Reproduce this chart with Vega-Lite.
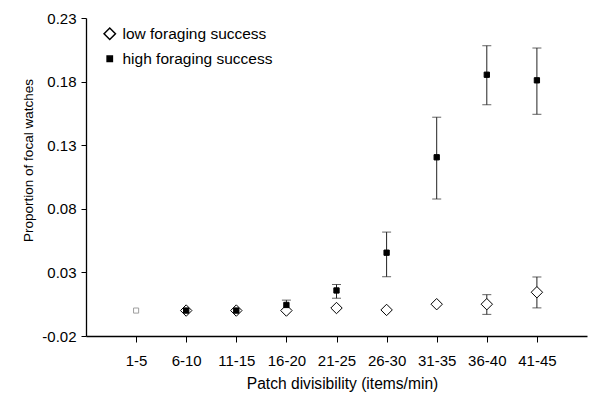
{
  "$schema": "https://vega.github.io/schema/vega-lite/v6.json",
  "autosize": "none",
  "width": 501,
  "height": 318,
  "padding": {"left": 86, "top": 18, "right": 4, "bottom": 57},
  "config": {
    "view": {"stroke": null},
    "font": "Liberation Sans",
    "axis": {"grid": false, "domainColor": "#000", "tickColor": "#000", "labelColor": "#000", "titleColor": "#000", "labelFont": "Liberation Sans", "titleFont": "Liberation Sans", "labelFontSize": 15, "titleFontSize": 15, "titleFontWeight": "normal", "domainWidth": 1.3, "tickWidth": 1},
    "legend": {"title": null, "orient": "none", "legendX": 16, "legendY": 8, "labelFontSize": 15.5, "labelFont": "Liberation Sans", "labelColor": "#000", "rowPadding": 8, "labelOffset": 5}
  },
  "datasets": {
    "pts": [
      {"group": "low", "cat": "6-10", "val": 0.0},
      {"group": "low", "cat": "11-15", "val": 0.0},
      {"group": "low", "cat": "16-20", "val": 0.0},
      {"group": "low", "cat": "21-25", "val": 0.002},
      {"group": "low", "cat": "26-30", "val": 0.0005},
      {"group": "low", "cat": "31-35", "val": 0.005},
      {"group": "low", "cat": "36-40", "val": 0.005, "lo": -0.003, "hi": 0.0125},
      {"group": "low", "cat": "41-45", "val": 0.0144, "lo": 0.0021, "hi": 0.0264},
      {"group": "high", "cat": "6-10", "val": 0.0},
      {"group": "high", "cat": "11-15", "val": 0.0},
      {"group": "high", "cat": "16-20", "val": 0.0044, "lo": 0.0006, "hi": 0.0082},
      {"group": "high", "cat": "21-25", "val": 0.0158, "lo": 0.0097, "hi": 0.0205},
      {"group": "high", "cat": "26-30", "val": 0.0455, "lo": 0.0266, "hi": 0.0617},
      {"group": "high", "cat": "31-35", "val": 0.1205, "lo": 0.0877, "hi": 0.152},
      {"group": "high", "cat": "36-40", "val": 0.1854, "lo": 0.1618, "hi": 0.2082},
      {"group": "high", "cat": "41-45", "val": 0.181, "lo": 0.1543, "hi": 0.2064}
    ],
    "extra": [
      {"cat": "1-5", "val": 0.0}
    ]
  },
  "encoding": {
    "x": {
      "field": "cat", "type": "ordinal",
      "scale": {"type": "point", "domain": ["1-5","6-10","11-15","16-20","21-25","26-30","31-35","36-40","41-45"], "padding": 1},
      "axis": {"title": "Patch divisibility (items/min)", "titleFontSize": 15.6, "titleX": 256, "labelAngle": 0, "tickSize": 6, "labelPadding": 11, "titlePadding": 8}
    }
  },
  "layer": [
    {
      "data": {"name": "pts"},
      "transform": [{"filter": "isValid(datum.lo)"}],
      "mark": {"type": "rule", "color": "#222", "strokeWidth": 1},
      "encoding": {
        "y": {"field": "lo", "type": "quantitative", "scale": {"domain": [-0.02, 0.23], "nice": false, "zero": false},
          "axis": {"title": "Proportion of focal watches", "titleFontSize": 13.5, "titleY": 142, "values": [-0.02, 0.03, 0.08, 0.13, 0.18, 0.23], "labelExpr": "datum.value < 0 ? '-' + format(-datum.value, '.2f') : format(datum.value, '.2f')", "tickSize": 5, "labelPadding": 5, "titlePadding": 6}},
        "y2": {"field": "hi"}
      }
    },
    {
      "data": {"name": "pts"},
      "transform": [{"filter": "isValid(datum.lo)"}],
      "mark": {"type": "tick", "color": "#222", "size": 9, "thickness": 1},
      "encoding": {"y": {"field": "lo", "type": "quantitative"}}
    },
    {
      "data": {"name": "pts"},
      "transform": [{"filter": "isValid(datum.hi)"}],
      "mark": {"type": "tick", "color": "#222", "size": 9, "thickness": 1},
      "encoding": {"y": {"field": "hi", "type": "quantitative"}}
    },
    {
      "data": {"name": "extra"},
      "mark": {"type": "point", "shape": "square", "size": 26, "filled": false, "stroke": "#777", "strokeWidth": 1},
      "encoding": {"y": {"field": "val", "type": "quantitative"}}
    },
    {
      "data": {"name": "pts"},
      "mark": {"type": "point", "stroke": "#000", "strokeWidth": 1, "opacity": 1},
      "encoding": {
        "y": {"field": "val", "type": "quantitative"},
        "shape": {"field": "group", "type": "nominal", "scale": {"domain": ["low", "high"], "range": ["diamond", "square"]},
          "legend": {"labelExpr": "datum.value == 'low' ? 'low foraging success' : 'high foraging success'",
            "encode": {"symbols": {"update": {"stroke": {"value": "#000"}, "strokeWidth": {"value": 1}, "size": {"signal": "datum.value == 'low' ? 64 : 28"}}}}}},
        "fill": {"field": "group", "type": "nominal", "scale": {"domain": ["low", "high"], "range": ["#fff", "#000"]},
          "legend": {"labelExpr": "datum.value == 'low' ? 'low foraging success' : 'high foraging success'",
            "encode": {"symbols": {"update": {"stroke": {"value": "#000"}, "strokeWidth": {"value": 1}, "size": {"signal": "datum.value == 'low' ? 64 : 28"}}}}}},
        "size": {"field": "group", "type": "nominal", "scale": {"domain": ["low", "high"], "range": [130, 28]},
          "legend": {"labelExpr": "datum.value == 'low' ? 'low foraging success' : 'high foraging success'",
            "encode": {"symbols": {"update": {"stroke": {"value": "#000"}, "strokeWidth": {"value": 1}, "size": {"signal": "datum.value == 'low' ? 64 : 28"}}}}}}
      }
    }
  ]
}
